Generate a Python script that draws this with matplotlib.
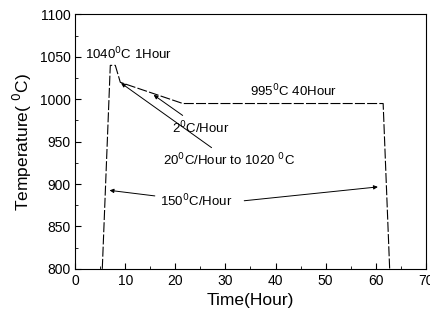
import matplotlib.pyplot as plt
from matplotlib.ticker import MultipleLocator

plt.rcParams['font.family'] = ['Liberation Sans', 'DejaVu Sans']

# heat treatment schedule
time_h = [0, 5.4, 7.0, 8.0, 9.0, 21.5, 61.5, 62.8, 70]
temp_c = [800, 800, 1040, 1040, 1020, 995, 995, 800, 800]

fig = plt.figure(figsize=(4.3, 3.22), dpi=100)
ax = fig.add_axes([0.175, 0.165, 0.815, 0.79])

ax.plot(time_h[1:-1], temp_c[1:-1], color='black', lw=0.8, dashes=(9, 2))

ax.set_xlim(0, 70)
ax.set_ylim(800, 1100)
ax.xaxis.set_major_locator(MultipleLocator(10))
ax.xaxis.set_minor_locator(MultipleLocator(5))
ax.yaxis.set_major_locator(MultipleLocator(50))
ax.yaxis.set_minor_locator(MultipleLocator(25))
ax.tick_params(which='both', direction='in', labelsize=10)
ax.tick_params(which='major', length=4)
ax.tick_params(which='minor', length=2)

ax.set_xlabel('Time(Hour)', fontsize=12.5)
ax.set_ylabel(r'Temperature( $^0$C)', fontsize=12.5)

fs = 9.5
ax.text(2.0, 1053, r'1040$^0$C 1Hour', fontsize=fs, va='center')
ax.text(35.0, 1010, r'995$^0$C 40Hour', fontsize=fs, va='center')

arr = dict(arrowstyle='-|>', color='black', lw=0.7, mutation_scale=6)
ax.annotate(r'2$^0$C/Hour', xy=(15.2, 1007), xytext=(19.3, 966),
            fontsize=fs, va='center', arrowprops=arr)
ax.annotate(r'20$^0$C/Hour to 1020 $^0$C', xy=(8.7, 1021), xytext=(17.6, 928),
            fontsize=fs, va='center', arrowprops=arr)
ax.annotate(r'150$^0$C/Hour', xy=(6.3, 893), xytext=(17.0, 880),
            fontsize=fs, va='center', arrowprops=arr)
ax.annotate('', xy=(61.0, 897), xytext=(33.2, 880), arrowprops=arr)

fig.savefig('out.png', dpi=100)
